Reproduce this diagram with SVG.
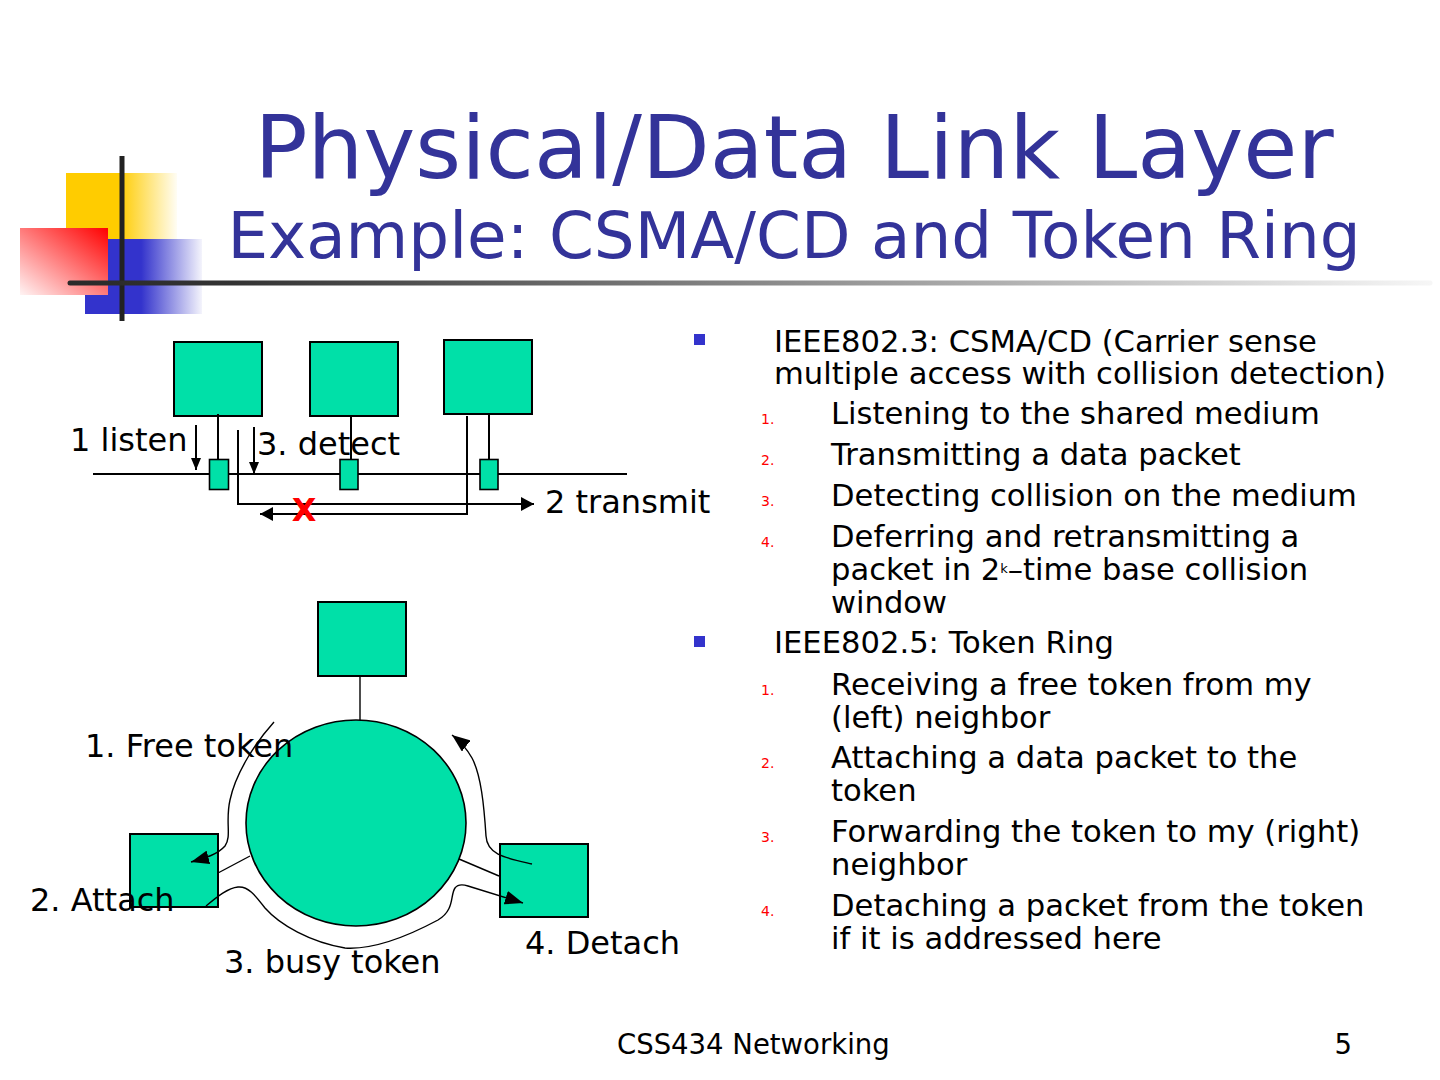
<svg xmlns="http://www.w3.org/2000/svg" width="1440" height="1080" viewBox="0 0 1440 1080">
<defs>
<linearGradient id="gY" x1="0" y1="0" x2="1" y2="0"><stop offset="0" stop-color="#FFCC00"/><stop offset="0.48" stop-color="#FFCC00"/><stop offset="1" stop-color="#FFFDF4"/></linearGradient>
<linearGradient id="gB" x1="0" y1="0" x2="1" y2="0"><stop offset="0" stop-color="#3333CC"/><stop offset="0.48" stop-color="#3333CC"/><stop offset="1" stop-color="#F4F4FC"/></linearGradient>
<linearGradient id="gR" x1="1" y1="0" x2="0" y2="1"><stop offset="0" stop-color="#FF0000"/><stop offset="1" stop-color="#FFF4F4"/></linearGradient>
<linearGradient id="gBar" gradientUnits="userSpaceOnUse" x1="68" y1="0" x2="1430" y2="0"><stop offset="0" stop-color="#2a2a2a"/><stop offset="0.12" stop-color="#333333"/><stop offset="1" stop-color="#f6f6f6"/></linearGradient>
<marker id="aS" viewBox="0 0 12 10" refX="12" refY="5" markerWidth="12" markerHeight="10" markerUnits="userSpaceOnUse" orient="auto"><path d="M0,0 L12,5 L0,10 Z" fill="#000"/></marker>
<marker id="aM" viewBox="0 0 13 14" refX="13" refY="7" markerWidth="13" markerHeight="14" markerUnits="userSpaceOnUse" orient="auto"><path d="M0,0 L13,7 L0,14 Z" fill="#000"/></marker>
<marker id="aL" viewBox="0 0 18 14" refX="18" refY="7" markerWidth="18" markerHeight="14" markerUnits="userSpaceOnUse" orient="auto"><path d="M0,0 L18,7 L0,14 Z" fill="#000"/></marker>
</defs>
<style>
text{font-family:"DejaVu Sans","Liberation Sans",sans-serif;fill:#000}
.title{fill:#333399;text-anchor:middle}
.node{fill:#00E0A8;stroke:#000;stroke-width:2}
.tap{fill:#00E0A8;stroke:#000;stroke-width:1.6}
.wire{fill:none;stroke:#000;stroke-width:2}
.ring{fill:none;stroke:#000;stroke-width:1.4}
.lbl{font-size:32px}
.body{font-size:30.6px}
.num{font-size:14px;fill:#FF0000}
.bul{fill:#3333CC}
</style>
<rect width="1440" height="1080" fill="#fff"/>
<g id="logo">
<rect x="66" y="173" width="111" height="67" fill="url(#gY)"/>
<rect x="85" y="239" width="117" height="75" fill="url(#gB)"/>
<rect x="20" y="228" width="88" height="67" fill="url(#gR)"/>
<line x1="122" y1="156" x2="122" y2="321" stroke="#222" stroke-width="5"/>
<line x1="70" y1="283" x2="1430" y2="283" stroke="url(#gBar)" stroke-width="5" stroke-linecap="round"/>
</g>
<g id="title">
<text class="title" x="794" y="178" font-size="88">Physical/Data Link Layer</text>
<text class="title" x="794" y="258" font-size="64.4">Example: CSMA/CD and Token Ring</text>
</g>
<g id="csma-station-1"><rect class="node" x="174" y="342" width="88" height="74"/></g>
<g id="csma-station-2"><rect class="node" x="310" y="342" width="88" height="74"/></g>
<g id="csma-station-3"><rect class="node" x="444" y="340" width="88" height="74"/></g>
<g id="ring-station-top"><rect class="node" x="318" y="602" width="88" height="74"/></g>
<g id="ring"><ellipse cx="356" cy="823" rx="110" ry="103" fill="#00E0A8" stroke="#000" stroke-width="1.6"/></g>
<g id="ring-station-left"><rect class="node" x="130" y="834" width="88" height="73"/></g>
<g id="ring-station-right"><rect class="node" x="500" y="844" width="88" height="73"/></g>
<g id="connectors">
<line class="wire" x1="93" y1="474" x2="627" y2="474"/>
<line class="wire" x1="218" y1="414" x2="218" y2="459"/>
<line class="wire" x1="351" y1="416" x2="351" y2="459"/>
<line class="wire" x1="489" y1="414" x2="489" y2="459"/>
<line x1="196" y1="425" x2="196" y2="470" stroke="#000" stroke-width="2" marker-end="url(#aS)"/>
<line x1="254" y1="427" x2="254" y2="474" stroke="#000" stroke-width="2" marker-end="url(#aS)"/>
<polyline class="wire" points="238,430 238,504 534,504" marker-end="url(#aM)"/>
<polyline class="wire" points="467,416 467,514 260,514" marker-end="url(#aM)"/>
<line class="ring" x1="360" y1="676" x2="360" y2="720"/>
<line class="ring" x1="218" y1="873" x2="250" y2="856"/>
<line class="ring" x1="459" y1="859" x2="499" y2="876"/>
<path class="ring" d="M274,722 C256,742 236,772 230,800 C225,822 232,836 225,846 C218,854 206,858 191,862" marker-end="url(#aL)"/>
<path class="ring" d="M532,864 C506,858 487,855 486,836 C484,805 481,775 472,758 C467,749 461,742 452,735" marker-end="url(#aL)"/>
<path class="ring" d="M206,906 C218,896 228,888 238,887 C248,886 255,895 265,908 C280,925 310,942 345,948 C375,950 410,935 438,920 C455,910 450,895 455,888 C458,884 462,884 468,886 L523,903" marker-end="url(#aL)"/>
</g>
<g id="csma-taps">
<rect class="tap" x="209.5" y="459.5" width="19" height="30"/>
<rect class="tap" x="340" y="459.5" width="18" height="30"/>
<rect class="tap" x="480" y="459.5" width="18" height="30"/>
</g>
<g id="csma-labels">
<text class="lbl" x="70" y="451">1 listen</text>
<text class="lbl" x="257" y="455">3. detect</text>
<text class="lbl" x="545" y="513">2 transmit</text>
<text x="304" y="521" font-size="32" font-weight="bold" text-anchor="middle" style="fill:#FF0000">X</text>
</g>
<g id="ring-labels">
<text class="lbl" x="85" y="757">1. Free token</text>
<text class="lbl" x="30" y="911">2. Attach</text>
<text class="lbl" x="224" y="973">3. busy token</text>
<text class="lbl" x="525" y="954">4. Detach</text>
</g>
<g id="bullets">
<rect class="bul" x="694" y="334" width="11" height="11"/>
<text class="body" x="774" y="352">IEEE802.3: CSMA/CD (Carrier sense</text>
<text class="body" x="774" y="384">multiple access with collision detection)</text>
<text class="num" x="761" y="424">1.</text><text class="body" x="831" y="424">Listening to the shared medium</text>
<text class="num" x="761" y="465">2.</text><text class="body" x="831" y="465">Transmitting a data packet</text>
<text class="num" x="761" y="506">3.</text><text class="body" x="831" y="506">Detecting collision on the medium</text>
<text class="num" x="761" y="547">4.</text><text class="body" x="831" y="547">Deferring and retransmitting a</text>
<text class="body" x="831" y="580">packet in 2<tspan font-size="13" dy="-7">k</tspan><tspan dy="7">–time base collision</tspan></text>
<text class="body" x="831" y="613">window</text>
<rect class="bul" x="694" y="636" width="11" height="11"/>
<text class="body" x="774" y="653">IEEE802.5: Token Ring</text>
<text class="num" x="761" y="695">1.</text><text class="body" x="831" y="695">Receiving a free token from my</text>
<text class="body" x="831" y="728">(left) neighbor</text>
<text class="num" x="761" y="768">2.</text><text class="body" x="831" y="768">Attaching a data packet to the</text>
<text class="body" x="831" y="801">token</text>
<text class="num" x="761" y="842">3.</text><text class="body" x="831" y="842">Forwarding the token to my (right)</text>
<text class="body" x="831" y="875">neighbor</text>
<text class="num" x="761" y="916">4.</text><text class="body" x="831" y="916">Detaching a packet from the token</text>
<text class="body" x="831" y="949">if it is addressed here</text>
</g>
<g id="footer">
<text x="617" y="1054" font-size="27.5">CSS434 Networking</text>
<text x="1352" y="1054" font-size="27.5" text-anchor="end">5</text>
</g>
</svg>
